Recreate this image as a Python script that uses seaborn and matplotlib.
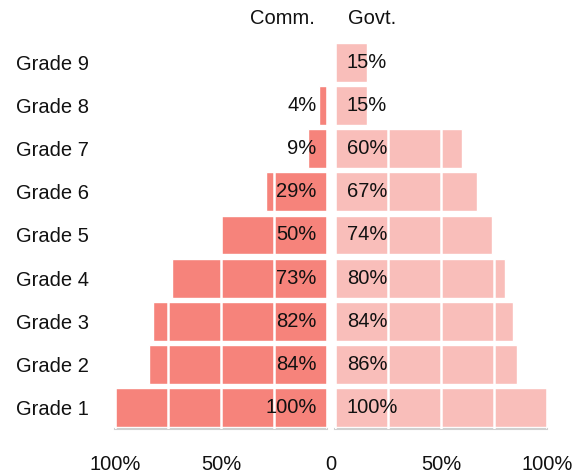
import pandas as pd
import matplotlib.pyplot as plt
import seaborn as sns

# data, top row first
grades = ['Grade 9', 'Grade 8', 'Grade 7', 'Grade 6', 'Grade 5',
          'Grade 4', 'Grade 3', 'Grade 2', 'Grade 1']
comm = [0, 4, 9, 29, 50, 73, 82, 84, 100]
govt = [15, 15, 60, 67, 74, 80, 84, 86, 100]
side_titles = ['Comm.', 'Govt.']

sns.set_style('white')
plt.rcParams['font.family'] = ['Liberation Sans', 'DejaVu Sans']
plt.rcParams['font.size'] = 14.5
plt.rcParams['text.color'] = '#111111'
plt.rcParams['xtick.labelcolor'] = '#111111'
plt.rcParams['ytick.labelcolor'] = '#111111'

comm_color = '#F6837B'
govt_color = '#F9BEBA'

df = pd.DataFrame({'grade': grades, 'comm': comm, 'govt': govt})

fig = plt.figure(figsize=(5.77, 4.76), dpi=100)
ax_l = fig.add_axes([115 / 577, 47 / 476, 212 / 577, 388 / 476])
ax_r = fig.add_axes([335 / 577, 47 / 476, 212 / 577, 388 / 476])

sns.barplot(data=df, x='comm', y='grade', orient='h', color=comm_color,
            saturation=1, width=0.9, ax=ax_l)
sns.barplot(data=df, x='govt', y='grade', orient='h', color=govt_color,
            saturation=1, width=0.9, ax=ax_r)

ax_l.set_xlim(100, 0)
ax_r.set_xlim(0, 100)

for ax in (ax_l, ax_r):
    ax.set_xlabel('')
    ax.set_ylabel('')
    ax.set_axisbelow(False)
    ax.grid(True, axis='x', color='white', linewidth=1.8)
    ax.grid(False, axis='y')
    for s in ['top', 'left', 'right']:
        ax.spines[s].set_visible(False)
    ax.spines['bottom'].set_color('#d0d0d0')
    ax.spines['bottom'].set_linewidth(1.5)
    ax.tick_params(axis='x', length=0, pad=19)
    ax.set_xticks([0, 25, 50, 75, 100])
    ax.set_xticklabels(['', '', '50%', '', '100%'])

ax_r.set_yticks([])
ax_l.tick_params(axis='y', length=0, pad=71)
for lab in ax_l.get_yticklabels():
    lab.set_horizontalalignment('left')

# value labels
for i, v in enumerate(comm):
    if v > 0:
        ax_l.text(5, i, f'{v}%', ha='right', va='center')
for i, v in enumerate(govt):
    ax_r.text(5.5, i, f'{v}%', ha='left', va='center')

# side titles and center zero
ax_l.text(5.5, 1.058, side_titles[0], ha='right', va='center',
          transform=ax_l.get_xaxis_transform())
ax_r.text(6, 1.058, side_titles[1], ha='left', va='center',
          transform=ax_r.get_xaxis_transform())
fig.text(331 / 577, 1 - 465 / 476, '0', ha='center', va='center')

fig.savefig('out.png', dpi=100)
